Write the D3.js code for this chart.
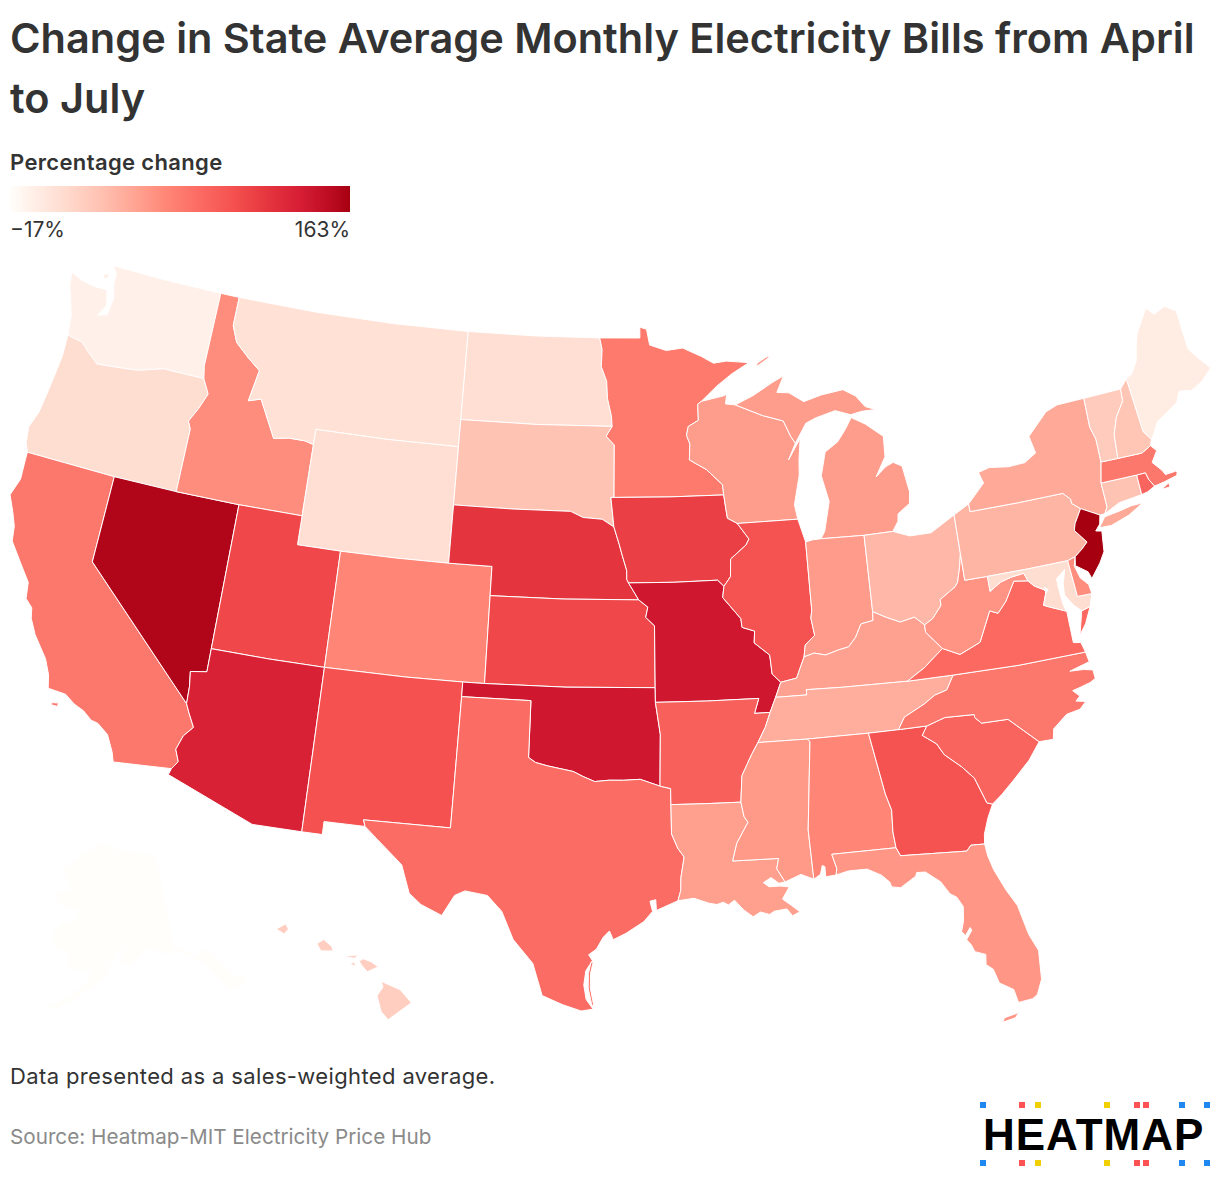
<!DOCTYPE html>
<html>
<head>
<meta charset="utf-8">
<script src="https://cdn.jsdelivr.net/npm/d3@7"></script>
<style>
body { margin: 0; background: #fff; }
text { font-family: Inter, "Noto Sans", sans-serif; }
</style>
</head>
<body>
<svg id="chart" width="1220" height="1184"></svg>
<script>
var titleLines = ['Change in State Average Monthly Electricity Bills from April', 'to July'];
var legendTitle = 'Percentage change';
var legendMin = '\u221217%';
var legendMax = '163%';
var noteText = 'Data presented as a sales-weighted average.';
var sourceText = 'Source: Heatmap-MIT Electricity Price Hub';

var stateCodes = ['WA','OR','CA','NV','ID','MT','WY','UT','AZ','CO','NM','ND','SD','NE','KS','OK','TX',
    'MN','IA','MO','AR','LA','WI','IL','MI','IN','OH','KY','TN','MS','AL','GA','FL','SC','NC','VA','WV',
    'PA','NY','MD','DE','DC','NJ','CT','RI','MA','VT','NH','ME','AK','HI'];
var stateChanges = [-6,10,75,158,62,7,9,107,134,66,101,9,30,120,107,141,82,
    74,113,141,91,52,53,100,53,54,37,51,44,55,66,100,57,88,75,85,58,
    39,46,10,62,-17,163,30,88,75,24,28,-2,-17,22];

// colour ramp
var rampValues = [-17,-4,14,32,48,66,84,102,118,136,154,163];
var rampColors = ['#fffefb','#ffeee6','#ffd9cc','#ffc0b0','#ffa695','#ff8676','#fb6a62','#f4504f','#e6373f','#d71e35','#b90a20','#a60010'];

// borders shared by two states, lon,lat
var arcs = {
    columbia: '-116.92,45.99 -118.98,46 -119.3,45.93 -120.2,45.73 -121.2,45.65 -122.2,45.57 -122.8,45.9 -123.2,46.15 -123.99,46.25',
    snake: '-116.92,45.99 -116.55,45.5 -116.85,44.95 -117.2,44.45 -117.03,44.2 -117.03,43 -117.03,42',
    bitterroot: '-116.05,49 -116.05,48 -115.7,47.45 -114.95,47 -114.3,46.65 -114.55,45.56 -113.95,45.7 -113.45,45.05 -113,44.45 -112.3,44.55 -111.5,44.55 -111.05,44.47',
    colorado1: '-114.04,36.2 -114.74,36.1 -114.65,35.6 -114.63,35',
    colorado2: '-114.63,35 -114.45,34.7 -114.15,34.25 -114.5,33.9 -114.7,33.4 -114.5,33 -114.72,32.72',
    redN: '-97.23,49 -97.1,48.6 -97.13,48 -96.85,47.5 -96.8,46.9 -96.6,46.3 -96.56,45.94',
    bigStone: '-96.56,45.94 -96.85,45.6 -96.45,45.3 -96.45,43.5',
    missouriSD: '-104.05,43 -101.3,43 -98.5,43 -97.9,42.8 -97,42.75 -96.45,42.49',
    missouriIA: '-96.45,42.49 -96.2,41.9 -96.05,41.5 -95.85,41 -95.85,40.7 -95.77,40.58',
    redS: '-100,34.56 -99.7,34.4 -99.2,34.3 -98.1,34.13 -97.7,33.97 -97.2,33.8 -96.6,33.85 -96,33.85 -95.3,33.88 -94.48,33.64',
    sabine: '-94.04,32 -93.8,31.5 -93.55,31.2 -93.7,30.5 -93.72,30.05 -93.84,29.7',
    stCroix: '-92.1,46.75 -92.29,46.66 -92.29,46.1 -92.8,45.9 -92.9,45.6 -92.75,45.3 -92.8,44.75',
    missA: '-92.8,44.75 -92,44.4 -91.25,43.85 -91.22,43.5',
    missB: '-91.22,43.5 -91.15,43 -91.1,42.7 -90.65,42.5',
    missC: '-90.65,42.5 -90.15,41.95 -90.3,41.75 -91.05,41.3 -91.1,40.7 -91.42,40.38',
    missD: '-91.42,40.38 -91.5,40 -90.73,39.25 -90.7,38.95 -90.15,38.8 -90.2,38.4 -89.55,37.95 -89.5,37.3 -89.15,37',
    missE: '-89.42,36.5 -89.7,36',
    missF: '-89.7,36 -89.95,35.5 -90.3,35',
    missG: '-90.3,35 -90.6,34.6 -91.05,33.9 -91.15,33',
    missH: '-91.15,33 -91.05,32.5 -90.9,32.3 -91.4,31.6 -91.6,31',
    pearl: '-89.75,31 -89.85,30.65 -89.55,30.18',
    tombigbee: '-88.2,35 -88.1,34.9 -88.47,31.9 -88.4,30.2',
    chatta: '-85.6,35 -85.18,32.87 -85,32.3 -85.05,31.55 -85,31',
    flGa: '-85,31 -84.86,30.71 -82.2,30.57 -82,30.75 -81.45,30.72',
    savannah: '-83.11,35 -83.35,34.7 -82.8,34.35 -82.55,33.95 -81.9,33.45 -81.45,33 -81.1,32.1 -80.88,32.03',
    ncSc: '-83.11,35 -82.3,35.2 -81.05,35.15 -81.05,35.05 -80.8,34.82 -79.67,34.8 -78.55,33.86',
    ncTn: '-84.32,35 -84,35.4 -83.1,35.75 -82.6,36 -82.05,36.12 -81.68,36.59',
    kyVa: '-83.68,36.6 -82.87,36.98 -81.97,37.54',
    tug: '-81.97,37.54 -82.6,38.17 -82.6,38.42',
    ohioA: '-80.52,40.64 -80.65,40.2 -80.85,39.7 -81,39.55 -81.75,39.2 -81.75,39 -82.2,38.6 -82.6,38.42',
    ohioB: '-82.6,38.42 -83,38.73 -83.65,38.63 -84.25,38.85 -84.82,39.1',
    ohioC: '-84.82,39.1 -84.85,38.8 -85.4,38.73 -85.7,38.3 -86.05,38 -86.5,37.93 -87.1,37.8 -87.6,37.9 -88.05,37.8',
    ohioD: '-88.05,37.8 -88.45,37.1 -89.15,37',
    wabash: '-87.53,39.35 -87.6,39.1 -87.5,38.5 -87.95,38.2 -88.05,37.8',
    vaWv: '-77.72,39.32 -78.35,39.4 -78.87,38.77 -79.3,38.42 -79.65,38.55 -80.3,37.55 -81.25,37.25 -81.97,37.54',
    potomacUp: '-77.72,39.32 -77.85,39.6 -78.45,39.55 -78.95,39.45 -79.48,39.2',
    potomacDc: '-77.05,38.79 -77.04,38.87 -77.12,38.93 -77.5,39.11 -77.72,39.32',
    potomacLow: '-76.32,38.05 -77,38.3 -77.25,38.4 -77.05,38.79',
    delawareA: '-75.35,42 -75.05,41.75 -75.05,41.6 -74.7,41.36',
    delawareB: '-74.7,41.36 -75.1,40.9 -75.2,40.68 -74.75,40.2 -75.05,40 -75.42,39.8',
    vtNy: '-73.27,42.75 -73.25,43.55 -73.4,44 -73.35,45.01',
    connRiver: '-72.46,42.73 -72.35,43.55 -72.05,44.1 -71.55,44.6 -71.5,45.01',
    meNh: '-71.1,45.3 -70.98,43.4 -70.7,43.07',
    wiUp: '-90.42,46.57 -89.1,46.14 -88.1,45.9 -87.8,45.35 -87.6,45.1'
};

// one string per ring: @name follows an arc, ~name follows it backwards
var stateRings = {
    WA: ['-124.73,48.38 -124.1,48.2 -123.4,48.12 -122.75,48.14 -122.55,47.6 -122.85,47.2 -122.4,47.3 -122.3,47.9 -122.5,48.4 -122.5,48.75 -122.76,49 -120,49 -117.03,49 -117.04,46.42 @columbia -124.07,46.65 -124.1,46.9 -124.4,47.5 -124.63,47.9',
        '-123.15,48.6 -122.9,48.7 -122.85,48.55 -123.05,48.47'],
    OR: ['-123.99,46.25 -123.95,45.5 -124.05,44.7 -124.15,44 -124.25,43.4 -124.5,42.85 -124.4,42.3 -124.21,42 -120,42 -117.03,42 ~snake @columbia'],
    CA: ['-124.21,42 -124.2,41.75 -124.15,41.05 -124.4,40.44 -124.05,39.9 -123.8,39.45 -123.7,38.95 -123.05,38.3 -122.5,37.75 -122.4,37.2 -122.05,36.95 -121.95,36.6 -121.6,36.1 -120.9,35.4 -120.6,34.9 -120.47,34.45 -119.7,34.4 -119.25,34.15 -118.8,34 -118.4,33.75 -118.1,33.7 -117.6,33.4 -117.25,32.85 -117.12,32.53 -114.72,32.72 ~colorado2 -120,39 -120,42',
        '-120.2,34 -119.9,34.05 -119.9,33.93 -120.15,33.93'],
    NV: ['-120,42 -117.03,42 -114.04,42 -114.04,37 @colorado1 -120,39'],
    ID: ['-117.03,49 @bitterroot -111.05,42 -114.04,42 -117.03,42 ~snake -117.04,46.42'],
    MT: ['-116.05,49 -112,49 -108,49 -104.05,49 -104.05,45.94 -104.05,45 -107.5,45 -111.05,45 -111.05,44.47 ~bitterroot'],
    WY: ['-111.05,45 -107.5,45 -104.05,45 -104.05,43 -104.05,41 -106.5,41 -109.05,41 -111.05,41 -111.05,42 -111.05,44.47'],
    UT: ['-114.04,42 -111.05,42 -111.05,41 -109.05,41 -109.05,37 -111.5,37 -114.04,37'],
    AZ: ['-114.04,37 -111.5,37 -109.05,37 -109.05,31.33 -111.07,31.33 -114.8,32.5 -114.72,32.72 ~colorado2 ~colorado1'],
    CO: ['-109.05,41 -106.5,41 -104.05,41 -102.05,41 -102.05,40 -102.05,37 -103,37 -105.5,37 -109.05,37'],
    NM: ['-109.05,37 -105.5,37 -103,37 -103,36.5 -103.06,32 -106.62,32 -106.53,31.78 -108.21,31.78 -108.21,31.33 -109.05,31.33'],
    ND: ['-104.05,49 -100.5,49 -97.23,49 @redN -100.3,45.94 -104.05,45.94'],
    SD: ['-104.05,45.94 -100.3,45.94 @bigStone -96.6,43.5 -96.45,42.49 -97,42.75 -97.9,42.8 -98.5,43 -101.3,43 -104.05,43'],
    NE: ['@missouriSD @missouriIA -95.31,40 -98.7,40 -102.05,40 -102.05,41 -104.05,41'],
    KS: ['-102.05,40 -98.7,40 -95.31,40 -94.9,39.75 -95,39.4 -94.61,39.11 -94.62,37 -98.5,37 -102.05,37'],
    OK: ['-103,37 -102.05,37 -98.5,37 -94.62,37 -94.62,36.5 -94.43,35.4 -94.48,33.64 ~redS -100,36.5 -103,36.5'],
    TX: ['-103,36.5 -100,36.5 @redS -94.04,33.55 -94.04,33 @sabine -94.7,29.38 -94.72,29.75 -94.95,29.7 -94.85,29.35 -95.2,29 -95.9,28.6 -96.4,28.38 -96.55,28.68 -96.8,28.45 -97.05,28.05 -97.35,27.85 -97.2,27.65 -97.45,27.3 -97.52,26.8 -97.42,26.3 -97.15,25.97 -97.6,25.9 -98.3,26.1 -99.1,26.4 -99.5,27.5 -100.3,28.3 -100.8,29.25 -101.4,29.77 -102.3,29.88 -102.7,29.7 -103.15,28.98 -104,29.3 -104.5,29.65 -104.9,30.6 -106,31.4 -106.53,31.78 -106.62,32 -103.06,32',
        '-97.25,27.6 -97.35,27.2 -97.35,26.7 -97.2,26.1 -97.13,26.1 -97.27,26.7 -97.27,27.2 -97.17,27.6'],
    MN: ['-97.23,49 -95.15,49 -95.15,49.38 -94.8,49.3 -94.65,48.75 -93.8,48.55 -92.95,48.62 -92,48.3 -91.4,48.05 -90.75,48.1 -89.6,48 -90.5,47.65 -91.3,47.25 @stCroix @missA -93.8,43.5 -96.45,43.5 ~bigStone ~redN'],
    IA: ['-96.6,43.5 -96.45,43.5 -93.8,43.5 -91.22,43.5 @missB @missC -91.7,40.6 -93.7,40.58 -95.77,40.58 ~missouriIA'],
    MO: ['-95.77,40.58 -93.7,40.58 -91.7,40.6 -91.42,40.38 @missD -89.42,36.5 @missE -90.37,36 -90.15,36.5 -92.4,36.5 -94.62,36.5 -94.62,37 -94.61,39.11 -95,39.4 -94.9,39.75 -95.31,40'],
    AR: ['-94.62,36.5 -92.4,36.5 -90.15,36.5 -90.37,36 -89.7,36 @missF @missG -92.6,33 -94.04,33 -94.04,33.55 -94.48,33.64 -94.43,35.4'],
    LA: ['-94.04,33 -92.6,33 @missH -89.75,31 @pearl -89.8,30.15 -90.1,30.36 -90.42,30.2 -90.2,30.05 -89.75,30.05 -89.4,30 -89.7,29.6 -89.35,29.35 -89.05,29.12 -89.35,29 -89.55,29.25 -90.05,29.2 -90.25,29.1 -90.6,29.2 -90.9,29.05 -91.25,29.3 -91.6,29.65 -91.85,29.5 -92.05,29.6 -92.3,29.53 -92.6,29.58 -93.2,29.77 -93.84,29.7 ~sabine'],
    WI: ['-92.1,46.75 -91,46.9 -90.82,46.95 -90.9,46.62 @wiUp -88,44.55 -87.35,45.25 -87.5,44.5 -87.55,44 -87.9,43 -87.8,42.5 -90.65,42.5 ~missB ~missA ~stCroix'],
    IL: ['-90.65,42.5 -87.8,42.5 -87.53,41.7 -87.53,39.35 @wabash @ohioD ~missD ~missC'],
    MI: ['-86.8,41.76 -84.8,41.72 -83.45,41.73 -83.15,42.05 -83.1,42.3 -82.5,42.6 -82.42,43 -82.6,43.9 -83,44.07 -83.4,43.95 -83.9,43.65 -83.35,44.3 -83.3,45 -84.1,45.5 -84.75,45.78 -85.1,45.4 -85.55,45 -86.2,44.7 -86.5,43.9 -86.25,43 -86.6,42',
        '-90.42,46.57 -89.1,46.14 -88.1,45.9 -87.8,45.35 -87.6,45.1 -87,45.75 -86.5,45.9 -85.5,46.08 -84.75,45.88 -84.2,45.95 -83.5,45.95 -84,46.1 -84.4,46.5 -85,46.77 -86.1,46.67 -87,46.5 -87.7,46.85 -88.3,46.9 -87.9,47.45 -88.5,47.25 -89.5,46.85',
        '-89.2,47.85 -88.45,48.17 -88.7,48.15 -89.2,47.95'],
    IN: ['-87.53,41.7 -87.2,41.75 -86.8,41.76 -84.8,41.72 -84.82,39.1 @ohioC ~wabash'],
    OH: ['-84.8,41.72 -83.45,41.73 -82.7,41.5 -81.7,41.5 -80.52,41.98 -80.52,40.64 @ohioA @ohioB'],
    KY: ['-89.42,36.5 -88.07,36.5 -88.07,36.68 -86.5,36.65 -83.68,36.6 @kyVa @tug @ohioB @ohioC @ohioD'],
    TN: ['-90.3,35 -88.2,35 -85.6,35 -84.32,35 @ncTn -83.68,36.6 -86.5,36.65 -88.07,36.68 -88.07,36.5 -89.42,36.5 @missE @missF'],
    MS: ['-90.3,35 -88.2,35 -88.1,34.9 -88.47,31.9 -88.4,30.2 -88.9,30.4 -89.55,30.18 ~pearl -91.6,31 ~missH ~missG'],
    AL: ['@tombigbee -88.12,30.35 -88.02,30.65 -87.92,30.6 -87.92,30.25 -87.5,30.28 -87.45,30.5 -87.6,31 -85,31 ~chatta'],
    GA: ['-85.6,35 -84.32,35 -83.11,35 @savannah -81.15,31.6 -81.4,31.05 -81.45,30.72 ~flGa ~chatta'],
    FL: ['-87.6,31 -85,31 @flGa -81.4,30.3 -81.25,29.8 -80.9,29.05 -80.55,28.45 -80.3,27.4 -80.03,26.8 -80.1,25.8 -80.35,25.3 -80.55,25.18 -81.1,25.13 -81.2,25.6 -81.7,25.9 -81.85,26.4 -82.1,26.6 -82.05,26.95 -82.45,27.1 -82.55,27.35 -82.7,27.55 -82.45,27.85 -82.5,27.95 -82.72,27.7 -82.85,27.85 -82.72,28.2 -82.65,28.7 -82.85,29.05 -83.1,29.2 -83.4,29.65 -83.95,30.05 -84.3,30.07 -84.35,29.95 -85,29.62 -85.35,29.68 -85.4,29.85 -85.7,30.12 -86.25,30.38 -87,30.38 -87.5,30.28 -87.45,30.5',
        '-81.8,24.53 -81.3,24.62 -81.15,24.78 -81.7,24.68'],
    SC: ['@ncSc -79.1,33.3 -79.9,32.7 -80.45,32.3 -80.88,32.03 ~savannah'],
    NC: ['-84.32,35 -83.11,35 @ncSc -77.95,33.85 -77.85,34.2 -77.2,34.6 -76.6,34.68 -76.3,34.9 -76.7,34.98 -76.5,35.12 -76.75,35.35 -76.35,35.42 -75.95,35.5 -75.7,35.6 -75.72,35.9 -76.1,35.98 -76.7,36.02 -76.05,36.15 -75.8,36.2 -75.87,36.55 -78.8,36.55 -81.68,36.59 ~ncTn'],
    VA: ['-83.68,36.6 -81.68,36.59 -78.8,36.55 -75.87,36.55 -75.98,36.9 -76.3,36.95 -76.3,37.5 -76.3,38.05 @potomacLow @potomacDc @vaWv ~kyVa',
        '-75.95,37.15 -75.65,37.95 -75.25,38.03 -75.6,37.5'],
    WV: ['-82.6,38.42 ~ohioA -80.52,39.72 -79.48,39.72 -79.48,39.2 ~potomacUp @vaWv @tug'],
    MD: ['-79.48,39.72 -77.6,39.72 -75.79,39.72 -75.7,38.46 -75.05,38.45 -75.25,38.03 -75.65,37.95 -75.95,38.2 -76.25,38.6 -76.2,39 -76,39.45 -76.45,39.2 -76.45,38.9 -76.4,38.3 @potomacLow @potomacDc @potomacUp'],
    DC: ['-77.12,38.93 -77.04,38.99 -76.91,38.89 -77.05,38.79 -77.04,38.87'],
    DE: ['-75.79,39.72 -75.42,39.8 -75.55,39.5 -75.4,39.05 -75.1,38.78 -75.05,38.45 -75.7,38.46'],
    PA: ['-80.52,41.98 -79.76,42.27 -79.76,42 -77.5,42 @delawareA @delawareB -75.79,39.72 -77.6,39.72 -79.48,39.72 -80.52,39.72 -80.52,40.64'],
    NJ: ['-74.7,41.36 -73.9,41 -74,40.7 -74.25,40.5 -73.98,40.45 -74.1,39.75 -74.4,39.4 -74.9,38.95 -75,39.2 -75.5,39.5 -75.42,39.8 ~delawareB'],
    NY: ['-79.76,42.27 -79.76,42 -77.5,42 @delawareA -73.9,41 -73.66,41 -73.49,41.21 -73.5,42.05 @vtNy -74.7,45 -75.3,44.85 -76.35,44.15 -76.2,43.55 -76.8,43.3 -77.6,43.27 -78.5,43.37 -79.05,43.27 -78.9,42.88',
        '-74.05,40.58 -73.5,40.56 -72.6,40.76 -71.85,41.05 -72.4,41.05 -73,40.97 -73.7,40.9'],
    CT: ['-73.5,42.05 -71.8,42.02 -71.8,41.33 -72.9,41.25 -73.66,41 -73.49,41.21'],
    RI: ['-71.8,42.02 -71.38,42.02 -71.3,41.75 -71.12,41.5 -71.5,41.37 -71.8,41.33'],
    MA: ['-73.5,42.05 -73.27,42.75 -72.46,42.73 -71.3,42.7 -70.82,42.87 -70.6,42.65 -70.95,42.3 -70.6,41.95 -70.5,41.78 -70,41.8 -70.2,42.08 -69.95,41.75 -70,41.65 -70.65,41.55 -71.12,41.5 -71.3,41.75 -71.38,42.02 -71.8,42.02',
        '-70.85,41.33 -70.45,41.48 -70.45,41.33'],
    VT: ['-73.35,45.01 -71.5,45.01 ~connRiver @vtNy'],
    NH: ['-71.5,45.01 -71.1,45.3 -70.98,43.4 -70.7,43.07 -70.82,42.87 -71.3,42.7 -72.46,42.73 @connRiver'],
    ME: ['-71.1,45.3 -70.8,45.4 -70.4,45.8 -70.25,46.2 -70,46.7 -69.23,47.46 -68.9,47.18 -68.3,47.35 -67.8,47.07 -67.79,45.7 -67.45,45.3 -67,44.85 -67.6,44.5 -68.2,44.3 -68.8,44.4 -69.05,44.05 -69.8,43.75 -70.2,43.6 -70.55,43.2 -70.7,43.07 ~meNh'],
    AK: ['-141,69.65 -141,60.3 -139,60 -137.5,59 -135,59.5 -133.5,58.4 -131.5,56 -130,55.9 -130,55 -133,54.8 -134.5,56.5 -136,58 -138,59 -140,59.7 -144,60 -146,60.8 -148,60 -150,59.2 -152,59.3 -151.5,60.7 -150,61.2 -152.5,60.5 -153.5,59.5 -154.5,58.3 -157,57 -160,55.8 -163,54.7 -165,54.6 -161,56 -158,57.7 -157.5,58.7 -159,58.6 -162,58.7 -162,60 -165,60.6 -166,61.7 -164.5,63 -161,63.6 -161,64.5 -164.5,64.5 -168,65.6 -163,66.5 -166.5,68.3 -163,69.5 -156.5,71.3 -150,70.5 -145,70'],
    HI: ['-159.75,22.05 -159.4,22.23 -159.3,22.05 -159.45,21.88', '-158.25,21.55 -158,21.7 -157.7,21.45 -157.65,21.3 -158.1,21.3', '-157.3,21.1 -156.75,21.17 -156.85,21.05', '-157.05,20.9 -156.85,20.9 -156.85,20.75', '-156.7,20.95 -156.55,21.03 -156.25,20.92 -156,20.75 -156.4,20.58 -156.6,20.8', '-155.9,20.25 -155.2,19.95 -154.8,19.5 -155.65,18.92 -155.9,19.2 -156.05,19.75 -155.83,20.05']
};

// logo squares
var logoDotX = [980,1019,1035,1104,1134,1143,1179,1204];
var logoDotColors = ['#1e88f0','#ff5252','#f0d000','#f0d000','#ff5252','#ff5252','#1e88f0','#1e88f0'];

var svg = d3.select('#chart');
var color = d3.scaleLinear().domain(rampValues).range(rampColors);

function parsePoints(s) {
    return s.trim().split(/\s+/).map(function(p) {
        return p.split(',').map(Number);
    });
}

function buildRing(s) {
    var pts = [];
    s.trim().split(/\s+/).forEach(function(tok) {
        if (tok[0] === '@') pts = pts.concat(parsePoints(arcs[tok.slice(1)]));
        else if (tok[0] === '~') pts = pts.concat(parsePoints(arcs[tok.slice(1)]).reverse());
        else pts.push(tok.split(',').map(Number));
    });
    // drop repeats where an arc starts on the last point
    pts = pts.filter(function(p, i) {
        return i === 0 || p[0] !== pts[i-1][0] || p[1] !== pts[i-1][1];
    });
    pts.push(pts[0]);
    return pts;
}

function stateFeature(code, i) {
    var polys = stateRings[code].map(function(s) {
        var ring = buildRing(s);
        // d3 wants the inside on the right
        if (d3.geoArea({type: 'Polygon', coordinates: [ring]}) > 2 * Math.PI) ring.reverse();
        return [ring];
    });
    return {type: 'Feature', id: code, properties: {change: stateChanges[i]}, geometry: {type: 'MultiPolygon', coordinates: polys}};
}

var features = stateCodes.map(stateFeature);
var projection = d3.geoAlbersUsa().scale(1665).translate([610, 638]);
var path = d3.geoPath(projection);

svg.append('g').attr('class', 'states')
    .selectAll('path')
    .data(features)
    .enter()
    .append('path')
    .attr('d', path)
    .attr('fill', function(d) { return color(d.properties.change); })
    .attr('stroke', '#fff')
    .attr('stroke-width', 1);

drawTitle();
drawLegend();
drawFooter();
drawLogo();

function drawTitle() {
    svg.append('g').selectAll('text')
        .data(titleLines)
        .enter()
        .append('text')
        .attr('x', 10)
        .attr('y', function(d, i) { return 53 + i * 60; })
        .attr('font-size', 41.5)
        .attr('font-weight', 600)
        .attr('fill', '#333')
        .text(function(d) { return d; });
}

function drawLegend() {
    var defs = svg.append('defs');
    var legendScale = d3.scaleLinear().domain([-17, 163]).range([0, 100]);
    var grad = defs.append('linearGradient').attr('id', 'ramp');
    grad.selectAll('stop')
        .data(rampValues)
        .enter()
        .append('stop')
        .attr('offset', function(d) { return legendScale(d) + '%'; })
        .attr('stop-color', function(d) { return color(d); });

    svg.append('text').attr('x', 10).attr('y', 170).attr('font-size', 22).attr('letter-spacing', 0.35).attr('font-weight', 600).attr('fill', '#333').text(legendTitle);
    svg.append('rect').attr('x', 10).attr('y', 186).attr('width', 340).attr('height', 26).attr('fill', 'url(#ramp)');
    svg.append('text').attr('x', 10).attr('y', 237).attr('font-size', 21).attr('fill', '#333').text(legendMin);
    svg.append('text').attr('x', 350).attr('y', 237).attr('font-size', 21).attr('fill', '#333').attr('text-anchor', 'end').text(legendMax);
}

function drawFooter() {
    svg.append('text').attr('x', 10).attr('y', 1084).attr('font-size', 22).attr('letter-spacing', 0.37).attr('fill', '#333').text(noteText);
    svg.append('text').attr('x', 10).attr('y', 1144).attr('font-size', 20.7).attr('fill', '#8a8a8a').text(sourceText);
}

function drawLogo() {
    svg.append('text')
        .attr('x', 983)
        .attr('y', 1150)
        .style('font-family', '"Liberation Sans", Arial, sans-serif')
        .attr('font-size', 44)
        .attr('letter-spacing', 1)
        .attr('font-weight', 700)
        .attr('fill', '#000')
        .text('HEATMAP');

    [1102, 1160].forEach(function(y) {
        svg.append('g').selectAll('rect')
            .data(logoDotX)
            .enter()
            .append('rect')
            .attr('x', function(d) { return d; })
            .attr('y', y)
            .attr('width', 6)
            .attr('height', 6)
            .attr('fill', function(d, i) { return logoDotColors[i]; });
    });
}
</script>
</body>
</html>
